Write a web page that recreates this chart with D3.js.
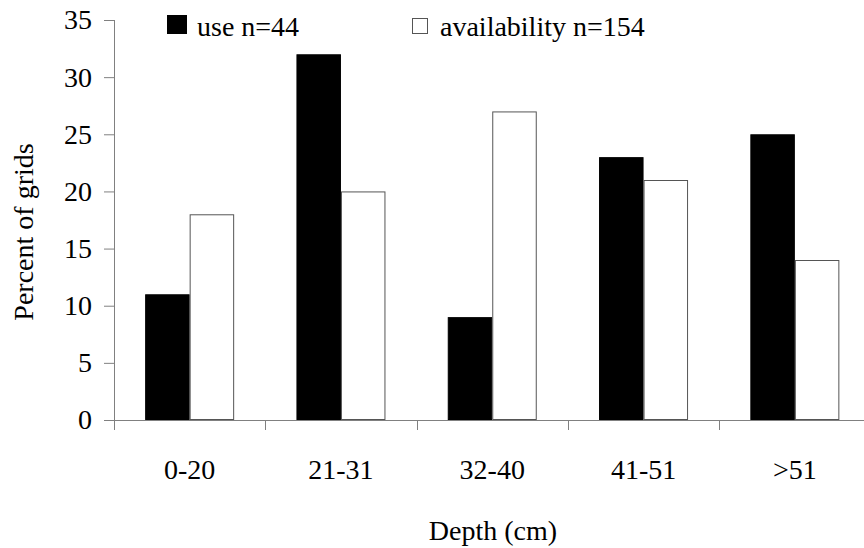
<!DOCTYPE html>
<html>
<head>
<meta charset="utf-8">
<script src="https://cdn.jsdelivr.net/npm/d3@7/dist/d3.min.js"></script>
<style>
  html, body { margin: 0; padding: 0; background: #fff; }
  svg { display: block; }
</style>
</head>
<body>
<svg id="chart" width="864" height="548"></svg>
<script>
const categories = ["0-20", "21-31", "32-40", "41-51", ">51"];
const seriesNames = ["use n=44", "availability n=154"];
const useValues = [11, 32, 9, 23, 25];
const availabilityValues = [18, 20, 27, 21, 14];
const yTicks = [0, 5, 10, 15, 20, 25, 30, 35];

(function () {
const svg = d3.select("#chart");
const mLeft = 114, mRight = 870.5, mTop = 20, mBottom = 420;
const fontSize = 28;
const FONT = "Liberation Serif";

const x0 = d3.scaleBand().domain(categories).range([mLeft, mRight]).padding(0);
const groupW = 89;
const x1 = d3.scaleBand().domain(seriesNames).range([0, groupW]).padding(0);
const y = d3.scaleLinear().domain([0, 35]).range([mBottom, mTop]);

const data = categories.map((c, i) => ({ cat: c, vals: [useValues[i], availabilityValues[i]] }));

// bars
const g = svg.append("g");
data.forEach(d => {
  d.vals.forEach((v, j) => {
    const xs = x0(d.cat) + (x0.bandwidth() - groupW) / 2 + x1(seriesNames[j]);
    g.append("rect")
      .attr("x", xs + 0.5)
      .attr("y", y(v) + 0.5)
      .attr("width", x1.bandwidth() - 1)
      .attr("height", y(0) - y(v) - 1)
      .attr("fill", j === 0 ? "#000" : "#fff")
      .attr("stroke", j === 0 ? "#000" : "#555")
      .attr("stroke-width", 1);
  });
});

// y axis
const yAxis = d3.axisLeft(y).tickValues(yTicks).tickSize(10).tickPadding(12);
const yg = svg.append("g").attr("transform", `translate(${mLeft},0)`).call(yAxis);
yg.attr("font-family", FONT).attr("font-size", fontSize);
yg.select(".domain").attr("stroke", "#808080").attr("d", `M0.5,${mTop}V${mBottom}`);
yg.selectAll(".tick line").attr("stroke", "#808080");
yg.selectAll(".tick text").attr("fill", "#000").style("font-family", FONT).style("font-size", fontSize + "px");

// x axis
const xTicksPos = categories.map(c => x0(c)).concat([mRight]);
svg.append("line").attr("x1", mLeft).attr("x2", 864).attr("y1", mBottom + 0.5).attr("y2", mBottom + 0.5).attr("stroke", "#808080");
svg.selectAll(".xtick").data(xTicksPos).enter().append("line")
  .attr("x1", d => Math.round(d) + 0.5).attr("x2", d => Math.round(d) + 0.5)
  .attr("y1", mBottom).attr("y2", mBottom + 10).attr("stroke", "#808080");
const T = sel => sel.style("font-family", FONT).style("font-size", fontSize + "px").attr("fill", "#000");
svg.selectAll(".xlab").data(categories).enter().append("text")
  .attr("x", d => x0(d) + x0.bandwidth() / 2)
  .attr("y", 479)
  .attr("text-anchor", "middle")
  .call(T)
  .text(d => d);

// axis titles
svg.append("text").attr("x", 493).attr("y", 540).attr("text-anchor", "middle")
  .call(T).text("Depth (cm)");
svg.append("text").attr("transform", "translate(33,232) rotate(-90)").attr("text-anchor", "middle")
  .call(T).text("Percent of grids");

// legend
svg.append("rect").attr("x", 167).attr("y", 15).attr("width", 20).attr("height", 19).attr("fill", "#000");
svg.append("text").attr("x", 197).attr("y", 36).call(T).text(seriesNames[0]);
svg.append("rect").attr("x", 412.5).attr("y", 18.5).attr("width", 15).attr("height", 15)
  .attr("fill", "#fff").attr("stroke", "#555");
svg.append("text").attr("x", 440).attr("y", 36).call(T).text(seriesNames[1]);
})();
</script>
</body>
</html>
